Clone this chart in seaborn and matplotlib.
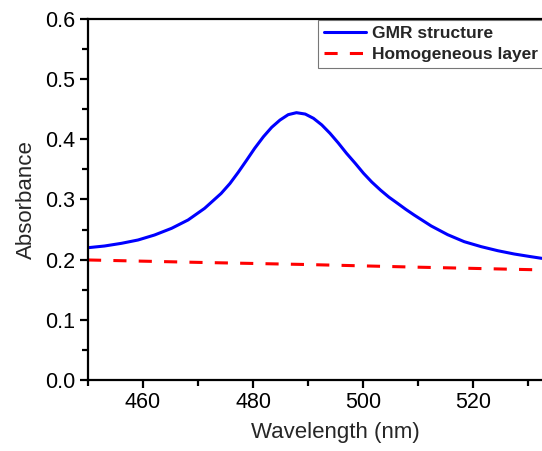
import numpy as np
import pandas as pd
import matplotlib
matplotlib.use("Agg")
import matplotlib.pyplot as plt
import seaborn as sns

# Data
gmr_wavelength = [450.0, 453.0, 456.1, 459.1, 462.1, 465.2, 468.2, 471.2, 474.2, 475.8, 477.3,
                  478.8, 480.3, 481.9, 483.4, 484.9, 486.4, 487.9, 489.5, 491.0, 492.5, 494.0,
                  495.5, 497.0, 498.6, 500.1, 501.6, 503.2, 504.7, 506.3, 507.8, 509.3, 512.4,
                  515.4, 518.4, 521.5, 524.5, 527.5, 530.5, 532.5]
gmr_absorbance = [0.2199, 0.2227, 0.2272, 0.2327, 0.2410, 0.2521, 0.2660, 0.2853, 0.3100, 0.3265, 0.3450,
                  0.3648, 0.3850, 0.4044, 0.4200, 0.4320, 0.4410, 0.4443, 0.4420, 0.4349, 0.4240, 0.4100,
                  0.3940, 0.3768, 0.3600, 0.3435, 0.3290, 0.3155, 0.3040, 0.2935, 0.2835, 0.2742, 0.2560,
                  0.2415, 0.2299, 0.2216, 0.2149, 0.2094, 0.2050, 0.2022]
homo_wavelength = [450, 470, 489.4, 510, 532.5]
homo_absorbance = [0.1995, 0.1955, 0.192, 0.1875, 0.183]

series_names = ["GMR structure", "Homogeneous layer"]
xticks = [460, 480, 500, 520]
yticks = [0.0, 0.1, 0.2, 0.3, 0.4, 0.5, 0.6]

sns.set_theme(style="ticks")
plt.rcParams['font.family'] = ['Liberation Sans', 'DejaVu Sans']

fig = plt.figure(figsize=(5.42, 4.51), dpi=100)
ax = fig.add_axes([88/542, 71/451, 495/542, 361/451])

df_gmr = pd.DataFrame({"Wavelength": gmr_wavelength, "Absorbance": gmr_absorbance})
df_homo = pd.DataFrame({"Wavelength": homo_wavelength, "Absorbance": homo_absorbance})

sns.lineplot(data=df_gmr, x="Wavelength", y="Absorbance", ax=ax, color="#0000ff",
             linewidth=2.2, label=series_names[0])
sns.lineplot(data=df_homo, x="Wavelength", y="Absorbance", ax=ax, color="#ff0000",
             linewidth=2.2, label=series_names[1])
ax.lines[0].set_solid_joinstyle("round")
ax.lines[1].set_dashes((4.3, 4.0))

ax.set_xlim(450, 540)
ax.set_ylim(0, 0.6)
ax.set_xticks(xticks)
ax.set_yticks(yticks)
ax.set_yticklabels([f"{v:.1f}" for v in yticks])
ax.set_xticks([450, 470, 490, 510, 530], minor=True)
ax.set_yticks(np.arange(0.05, 0.6, 0.1), minor=True)

for s in ax.spines.values():
    s.set_linewidth(1.6)
    s.set_color("black")
ax.tick_params(axis="both", which="major", direction="out", length=6, width=1.6,
               labelsize=15.5, colors="black", pad=3)
ax.tick_params(axis="both", which="minor", direction="out", length=4, width=1.6, colors="black")

ax.set_xlabel("Wavelength (nm)", fontsize=16, labelpad=6)
ax.set_ylabel("Absorbance", fontsize=16, labelpad=6)

leg = ax.legend(loc="upper left", bbox_to_anchor=(318/542, 1 - 20/451),
                bbox_transform=fig.transFigure, borderaxespad=0, frameon=True,
                fancybox=False, prop={"weight": "bold", "size": 12.5},
                handlelength=2.4, handletextpad=0.35, borderpad=0.35, labelspacing=0.3)
leg.get_frame().set_edgecolor("#555555")
leg.get_frame().set_linewidth(0.8)

fig.savefig("out.png", dpi=100)
